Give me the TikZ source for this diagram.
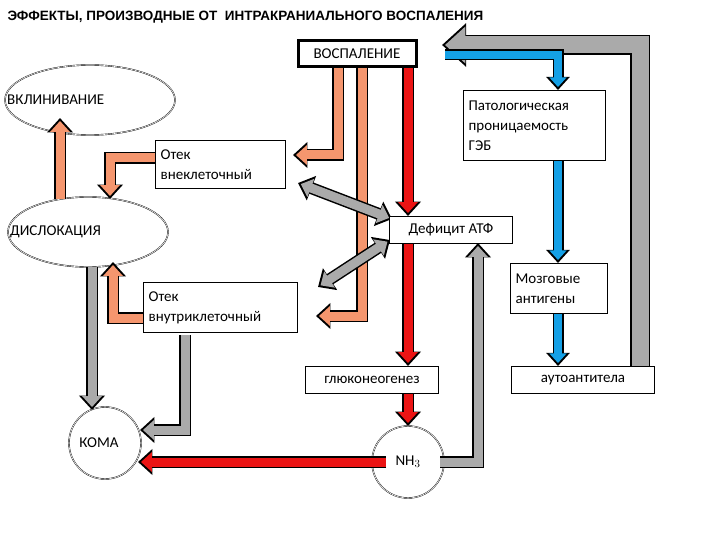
\documentclass[tikz,border=0pt]{standalone}
\usepackage{fontspec}
\setmainfont{Carlito}
\newfontfamily\titlefont{Liberation Sans}
\usetikzlibrary{arrows.meta,shapes.geometric}
\newcommand\barrow[3]{%
  \draw[black,line width=#2+3pt,line join=miter,-{Triangle[width=0pt 2.1,length=0pt 1.2]}] #3;
  \draw[#1,line width=#2,line join=miter,shorten >=3pt,-{Triangle[width=0pt 2.1,length=0pt 1.2]}] #3;}
\newcommand\dbarrow[3]{%
  \draw[black,line width=#2+3pt,{Triangle[width=0pt 2.1,length=0pt 1.2]}-{Triangle[width=0pt 2.1,length=0pt 1.2]}] #3;
  \draw[#1,line width=#2,shorten >=3pt,shorten <=3pt,{Triangle[width=0pt 2.1,length=0pt 1.2]}-{Triangle[width=0pt 2.1,length=0pt 1.2]}] #3;}
\definecolor{orng}{RGB}{245,150,110}
\definecolor{gry}{RGB}{170,170,170}
\definecolor{blu}{RGB}{20,160,230}
\definecolor{rd}{RGB}{235,20,20}
\begin{document}
\begin{tikzpicture}[x=1pt,y=-1pt]
% STYLES
\tikzset{%
    box/.style={draw,line width=1.2pt,fill=white,align=left,inner sep=5pt,
        font=\fontsize{15}{20}\selectfont},
    circ/.style={draw,double,circle,fill=white,minimum size=72pt,
        font=\fontsize{15}{18}\selectfont}
}
\useasboundingbox (0,0) rectangle (720,540);
\node[anchor=west,font=\titlefont\bfseries\fontsize{13.5}{16}\selectfont] (title) at (4,17)
    {ЭФФЕКТЫ, ПРОИЗВОДНЫЕ ОТ\ \ ИНТРАКРАНИАЛЬНОГО ВОСПАЛЕНИЯ};
% nodes
\node[ellipse,draw,double,minimum width=170pt,minimum height=70pt] (vklin) at (90,100) {};
\node[anchor=west,font=\fontsize{15}{18}\selectfont,inner sep=1pt] at (6,100) {ВКЛИНИВАНИЕ};
\node[ellipse,draw,double,minimum width=160pt,minimum height=70pt] (disl) at (88,232) {};
\node[anchor=west,font=\fontsize{15}{18}\selectfont,inner sep=1pt] at (9,232) {ДИСЛОКАЦИЯ};
\node[circ] (koma) at (105,443) {\hspace*{-12pt}КОМА};
\node[circ] (nh) at (408,462) {NH$_3$};
% arrows (drawn before boxes)
\barrow{gry}{17pt}{(640,372) -- (640,45) -- (442,45)}
\barrow{blu}{8pt}{(445,55) -- (558,55) -- (558,90)}
\barrow{blu}{8pt}{(558,160) -- (558,263)}
\barrow{blu}{8pt}{(558,313) -- (558,366)}
\barrow{rd}{9pt}{(408,68) -- (408,216)}
\barrow{rd}{9pt}{(408,243) -- (408,366)}
\barrow{rd}{9pt}{(408,393) -- (408,426)}
\barrow{rd}{9pt}{(386,462) -- (138,462)}
\barrow{gry}{9pt}{(440,462) -- (478,462) -- (478,243)}
\barrow{orng}{9pt}{(338,68) -- (338,155) -- (293,155)}
\barrow{orng}{9pt}{(362,68) -- (362,316) -- (316,316)}
\dbarrow{gry}{9pt}{(298,183) -- (392,219)}
\dbarrow{gry}{9pt}{(318,287) -- (390,240)}
\barrow{orng}{9pt}{(60,199) -- (60,118)}
\barrow{orng}{9pt}{(157,158) -- (110,158) -- (110,199)}
\barrow{orng}{9pt}{(145,318) -- (113,318) -- (113,262)}
\barrow{gry}{9pt}{(92,267) -- (92,410)}
\barrow{gry}{9pt}{(185,335) -- (185,430) -- (140,430)}
% boxes
\node[box,line width=3pt,minimum width=118pt,minimum height=26pt,align=center,inner sep=2pt] (vosp) at (357,54) {ВОСПАЛЕНИЕ};
\node[box,anchor=north west,text width=132pt,minimum height=70pt] (geb) at (463,90) {Патологическая\\проницаемость\\ГЭБ};
\node[box,anchor=north west,text width=120pt,minimum height=48pt] (otekv) at (155,140) {Отек\\внеклеточный};
\node[box,minimum width=123pt,minimum height=27pt,align=center,inner sep=2pt] (atf) at (451,230) {Дефицит АТФ};
\node[box,anchor=north west,text width=87pt,minimum height=50pt] (antig) at (510,263) {Мозговые\\антигены};
\node[box,anchor=north west,text width=144pt,minimum height=50pt] (otekvn) at (143,282) {Отек\\внутриклеточный};
\node[box,minimum width=133pt,minimum height=27pt,align=center,inner sep=2pt] (gluk) at (372,380) {глюконеогенез};
\node[box,minimum width=143pt,minimum height=27pt,align=center,inner sep=2pt] (auto) at (583,380) {аутоантитела};
\end{tikzpicture}
\end{document}
